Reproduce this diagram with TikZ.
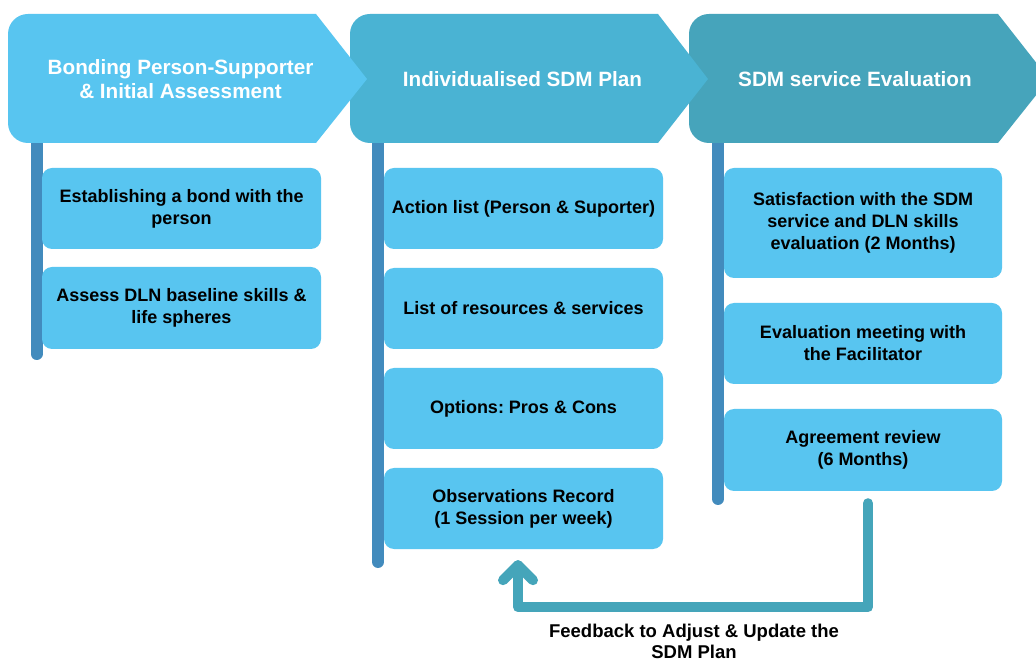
\documentclass[tikz,border=0pt]{standalone}
\usepackage{fontspec}
\setmainfont{Liberation Sans}
\definecolor{boxc}{RGB}{88,197,240}
\definecolor{hone}{RGB}{88,197,240}
\definecolor{htwo}{RGB}{74,179,211}
\definecolor{hthree}{RGB}{70,164,187}
\definecolor{barc}{RGB}{66,139,189}
\definecolor{fbc}{RGB}{69,165,186}
\frenchspacing
\begin{document}
\begin{tikzpicture}[x=1pt,y=1pt,
  hdr/.style={text=white, font=\fontsize{20.7}{24}\selectfont\bfseries, align=center, inner sep=0pt},
  stepbox/.style={fill=boxc, rounded corners=10pt, font=\fontsize{18}{22}\selectfont\bfseries, align=center, inner sep=0pt, minimum width=279pt, minimum height=81pt, text=black},
  bar/.style={draw=barc, line width=12pt, line cap=round},
  fb/.style={draw=fbc, line width=10pt, line cap=round, line join=round},
  fblabel/.style={font=\fontsize{18.5}{21}\selectfont\bfseries, align=center, inner sep=0pt}]
\useasboundingbox (0,0) rectangle (1036,659);
\clip (0,0) rectangle (1036,659);
\fill[white] (0,0) rectangle (1036,659);
% vertical bars
\draw[bar] (36.5,530) -- (36.5,305);
\draw[bar] (378,530) -- (378,97);
\draw[bar] (718,530) -- (718,160);
% headers (back to front)
\fill[hthree] (709,645) -- (998,645) -- (1049,580) -- (998,516) -- (709,516)
  arc[start angle=270,end angle=180,radius=20] -- (689,625)
  arc[start angle=180,end angle=90,radius=20] -- cycle;
\fill[htwo] (370,645) -- (658,645) -- (708,580) -- (658,516) -- (370,516)
  arc[start angle=270,end angle=180,radius=20] -- (350,625)
  arc[start angle=180,end angle=90,radius=20] -- cycle;
\fill[hone] (28,645) -- (316,645) -- (367,580) -- (316,516) -- (28,516)
  arc[start angle=270,end angle=180,radius=20] -- (8,625)
  arc[start angle=180,end angle=90,radius=20] -- cycle;
\node[hdr] (t1) at (180.5,580) {Bonding Person-Supporter\\\& Initial Assessment};
\node[hdr] (t2) at (522.5,580) {Individualised SDM Plan};
\node[hdr] (t3) at (855,580) {SDM service Evaluation};
% boxes
\node[stepbox] (b11) at (181.5,450.5) {Establishing a bond with the\\person};
\node[stepbox, minimum height=82pt] (b12) at (181.5,351) {Assess DLN baseline skills \&\\life spheres};
\node[stepbox] (b21) at (523.5,450.5) {Action list (Person \& Suporter)};
\node[stepbox] (b22) at (523.5,350.5) {List of resources \& services};
\node[stepbox] (b23) at (523.5,250.5) {Options: Pros \& Cons};
\node[stepbox] (b24) at (523.5,150.5) {Observations Record\\(1 Session per week)};
\node[stepbox, minimum width=278pt, minimum height=110pt] (b31) at (863,436) {Satisfaction with the SDM\\service and DLN skills\\evaluation (2 Months)};
\node[stepbox, minimum width=278pt] (b32) at (863,315.5) {Evaluation meeting with\\the Facilitator};
\node[stepbox, minimum width=278pt, minimum height=82pt] (b33) at (863,209) {Agreement review\\(6 Months)};
% feedback connector
\coordinate (fbs) at ([xshift=5pt,yshift=-12pt]b33.south);
\coordinate (fbt) at ([xshift=-5.5pt,yshift=-16pt]b24.south);
\draw[fb] (fbs) |- ([yshift=-42pt]fbt) -- (fbt);
\draw[fb] ([shift={(-15pt,-15pt)}]fbt) -- (fbt) -- ([shift={(15pt,-15pt)}]fbt);
\node[fblabel] (fbl) at (694,18) {Feedback to Adjust \& Update the\\SDM Plan};
\end{tikzpicture}
\end{document}
